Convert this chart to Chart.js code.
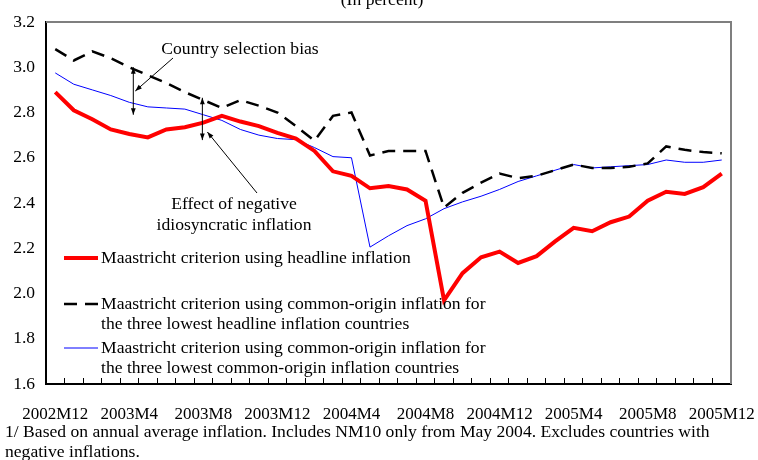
<!DOCTYPE html>
<html>
<head>
<meta charset="utf-8">
<script src="https://cdn.jsdelivr.net/npm/chart.js@4/dist/chart.umd.min.js"></script>
<style>
  html, body { margin: 0; padding: 0; background: #fff; }
  #wrap { width: 758px; height: 460px; }
</style>
</head>
<body>
<div id="wrap"><canvas id="chart" width="758" height="460"></canvas></div>
<script>
// === Data ===
const months = [
    '2002M12', '2003M1', '2003M2', '2003M3', '2003M4', '2003M5', '2003M6', '2003M7', '2003M8',
    '2003M9', '2003M10', '2003M11', '2003M12', '2004M1', '2004M2', '2004M3', '2004M4',
    '2004M5', '2004M6', '2004M7', '2004M8', '2004M9', '2004M10', '2004M11', '2004M12',
    '2005M1', '2005M2', '2005M3', '2005M4', '2005M5', '2005M6', '2005M7', '2005M8',
    '2005M9', '2005M10', '2005M11', '2005M12'
];
const headline = [
    2.89, 2.81, 2.77, 2.725, 2.705, 2.69, 2.725, 2.735, 2.755, 2.785, 2.76, 2.74, 2.71,
    2.685, 2.63, 2.54, 2.52, 2.465, 2.475, 2.46, 2.41, 1.97, 2.09, 2.16, 2.185,
    2.135, 2.165, 2.23, 2.29, 2.275, 2.315, 2.34, 2.41, 2.45, 2.44, 2.47, 2.53
];
const commonHeadline = [
    3.08, 3.03, 3.07, 3.04, 3.0, 2.965, 2.93, 2.89, 2.855, 2.82, 2.855, 2.83, 2.80,
    2.74, 2.675, 2.785, 2.80, 2.61, 2.63, 2.63, 2.63, 2.38, 2.445, 2.49, 2.53,
    2.51, 2.52, 2.545, 2.57, 2.555, 2.555, 2.56, 2.575, 2.65, 2.635, 2.625, 2.62
];
const commonOrigin = [
    2.975, 2.925, 2.90, 2.875, 2.845, 2.825, 2.82, 2.815, 2.79, 2.765, 2.725, 2.70, 2.685,
    2.68, 2.645, 2.605, 2.60, 2.205, 2.255, 2.30, 2.33, 2.375, 2.405, 2.43, 2.46,
    2.495, 2.52, 2.545, 2.57, 2.555, 2.56, 2.565, 2.57, 2.59, 2.58, 2.58, 2.59
];
const legendLines = [
    ['Maastricht criterion using headline inflation'],
    ['Maastricht criterion using common-origin inflation for', 'the three lowest headline inflation countries'],
    ['Maastricht criterion using common-origin inflation for', 'the three lowest common-origin inflation countries']
];
const footnote = [
    '1/ Based on annual average inflation. Includes NM10 only from May 2004. Excludes countries with',
    'negative inflations.'
];

const FONT = '"Liberation Serif", "Times New Roman", serif';
const TEXT_SIZE = 17.6;

// === Helpers ===
function arrowHead(ctx, x1, y1, x2, y2, size) {
    const a = Math.atan2(y2 - y1, x2 - x1);
    ctx.beginPath();
    ctx.moveTo(x2, y2);
    ctx.lineTo(x2 - size * Math.cos(a - 0.35), y2 - size * Math.sin(a - 0.35));
    ctx.lineTo(x2 - size * Math.cos(a + 0.35), y2 - size * Math.sin(a + 0.35));
    ctx.closePath();
    ctx.fill();
}

function arrow(ctx, x1, y1, x2, y2, both) {
    ctx.beginPath();
    ctx.moveTo(x1, y1);
    ctx.lineTo(x2, y2);
    ctx.stroke();
    arrowHead(ctx, x1, y1, x2, y2, 7);
    if (both) arrowHead(ctx, x2, y2, x1, y1, 7);
}

// === Plugins ===
const decorations = {
    id: 'decorations',
    afterDraw(chart) {
        const ctx = chart.ctx;
        const area = chart.chartArea;
        const xs = chart.scales.x, ys = chart.scales.y;
        ctx.save();

        // grey frame top / right
        ctx.strokeStyle = '#7f7f7f';
        ctx.lineWidth = 2;
        ctx.beginPath();
        ctx.moveTo(area.left, area.top);
        ctx.lineTo(area.right, area.top);
        ctx.lineTo(area.right, area.bottom);
        ctx.stroke();

        ctx.fillStyle = '#000';
        ctx.font = TEXT_SIZE + 'px ' + FONT;
        ctx.textAlign = 'center';
        ctx.textBaseline = 'alphabetic';
        ctx.fillText('(In percent)', 382, 5);

        // annotations
        ctx.strokeStyle = '#000';
        ctx.lineWidth = 1;
        ctx.textBaseline = 'middle';
        ctx.fillText('Country selection bias', 240, 49);
        ctx.fillText('Effect of negative', 234, 204);
        ctx.fillText('idiosyncratic inflation', 234, 225);

        const ax1 = xs.getPixelForValue(4) + 4;
        arrow(ctx, ax1, ys.getPixelForValue(3.0), ax1, ys.getPixelForValue(2.79), true);
        arrow(ctx, 173, 58, ax1 + 2, 91, false);

        const ax2 = xs.getPixelForValue(8) - 1;
        arrow(ctx, ax2, ys.getPixelForValue(2.865), ax2, ys.getPixelForValue(2.678), true);
        arrow(ctx, 257, 193, ax2 + 5, 132, false);

        // legend
        const rows = [258, 304, 348];
        chart.data.datasets.forEach((ds, i) => {
            const y = rows[i];
            ctx.strokeStyle = ds.borderColor;
            ctx.lineWidth = ds.borderWidth;
            ctx.setLineDash(ds.borderDash || []);
            ctx.beginPath();
            ctx.moveTo(64, y);
            ctx.lineTo(98, y);
            ctx.stroke();
            ctx.setLineDash([]);
            ctx.textAlign = 'left';
            legendLines[i].forEach((t, j) => ctx.fillText(t, 101, y + j * 20));
        });

        // footnote
        ctx.textAlign = 'left';
        ctx.textBaseline = 'alphabetic';
        footnote.forEach((t, j) => ctx.fillText(t, 5, 437 + j * 20));
        ctx.restore();
    }
};

// === Chart ===
const ctx = document.getElementById('chart').getContext('2d');
new Chart(ctx, {
    type: 'line',
    data: {
        labels: months,
        datasets: [
            { label: legendLines[0][0], data: headline, borderColor: '#ff0000', borderWidth: 4 },
            { label: legendLines[1][0], data: commonHeadline, borderColor: '#000000', borderWidth: 2.5, borderDash: [13, 8] },
            { label: legendLines[2][0], data: commonOrigin, borderColor: '#0000ff', borderWidth: 1 }
        ]
    },
    options: {
        responsive: false,
        animation: false,
        layout: { padding: { left: 0, right: 27, top: 22, bottom: 0 } },
        elements: { point: { radius: 0 }, line: { tension: 0 } },
        plugins: { legend: { display: false }, tooltip: { enabled: false } },
        scales: {
            x: {
                offset: true,
                afterFit: s => { s.height = 76; s.paddingLeft = 0; s.paddingRight = 0; },
                grid: { offset: true, drawOnChartArea: false, drawTicks: true, tickLength: -6, color: '#000' },
                border: { color: '#000', width: 2 },
                ticks: {
                    autoSkip: false, maxRotation: 0, color: '#000', padding: 26,
                    font: { family: FONT, size: 17 },
                    callback: (v, i) => (i % 4 === 0 ? months[i] : '')
                }
            },
            y: {
                min: 1.6, max: 3.2,
                afterFit: s => { s.width = 46; s.paddingTop = 0; s.paddingBottom = 0; },
                grid: { display: false, drawTicks: false },
                border: { color: '#000', width: 2 },
                ticks: {
                    stepSize: 0.2, color: '#000', padding: 11,
                    font: { family: FONT, size: 17.5 },
                    callback: v => v.toFixed(1)
                }
            }
        }
    },
    plugins: [decorations]
});
</script>
</body>
</html>
